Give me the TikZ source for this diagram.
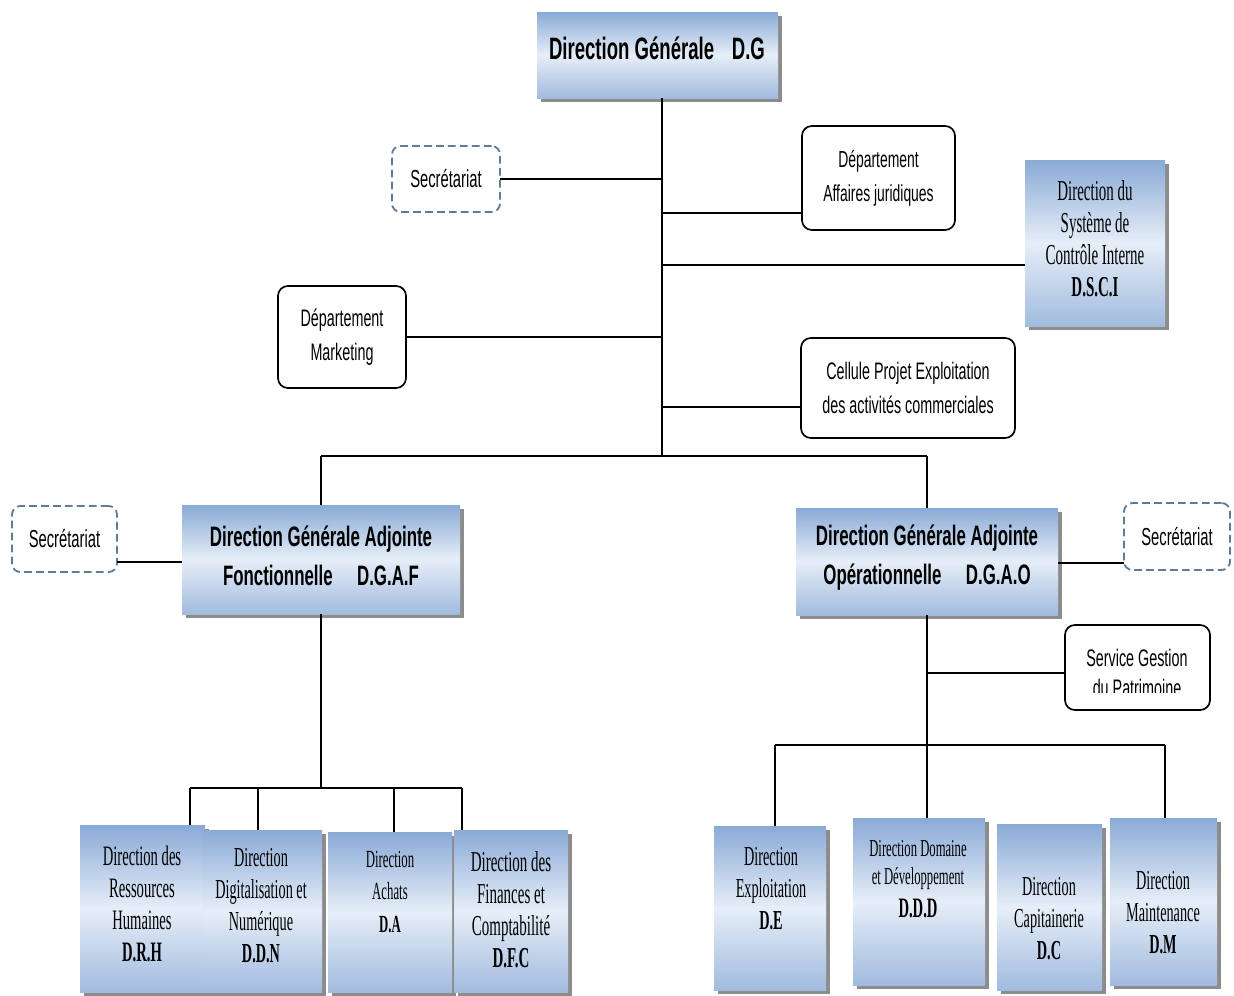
\documentclass[tikz,border=0pt]{standalone}
\usepackage{fontspec}
\setmainfont{Liberation Sans}[FakeStretch=0.6]
\newfontfamily\serifn{Liberation Serif}[FakeStretch=0.52]
\usepackage{xcolor}
\usetikzlibrary{shadows}
\definecolor{boxblue}{RGB}{138,170,214}
\definecolor{boxlight}{RGB}{230,238,248}
\definecolor{dashblue}{RGB}{95,122,155}
\newlength\pxl
\setlength\pxl{0.025cm}

\begin{document}
\begin{tikzpicture}[x=1\pxl, y=-1\pxl,
    lien/.style={line width=1.3pt},
    dirbox/.style={shading=axis, shading angle=20, top color=boxblue, bottom color=boxblue!80!white,
      middle color=boxlight, inner sep=0pt, outer sep=0pt,
      drop shadow={shadow xshift=3pt, shadow yshift=-3pt, fill=black!45, opacity=1}},
    rbox/.style={draw, fill=white, line width=1.2pt, rounded corners=7pt, inner sep=0pt, outer sep=0pt, align=center,
      font=\fontsize{17}{24}\selectfont},
    secbox/.style={draw=dashblue, fill=white, line width=1.3pt, dash pattern=on 5.5pt off 3pt, rounded corners=6pt,
      inner sep=0pt, outer sep=0pt, font=\fontsize{17.5}{22}\selectfont},
    titre/.style={align=center, font=\bfseries\fontsize{20}{27.7}\selectfont},
    stxt/.style={align=center, font=\serifn\fontsize{#1}{22.8}\selectfont},
    stxt/.default=19.5]
\useasboundingbox (0,0) rectangle (1234,995);

% Direction generale et rattachements
\node[dirbox, minimum width=241\pxl, minimum height=86\pxl] (dg) at (657.5,55) {};
\node[font=\bfseries\fontsize{22}{26}\selectfont] (dg-t) at (657,48) {Direction Générale\hspace{9pt} D.G};
\coordinate (t0) at (662,456);
\draw[lien] (dg.south -| t0) -- (t0);

\node[secbox, minimum width=108\pxl, minimum height=66\pxl] (sec1) at (446,179) {Secrétariat};
\node[rbox, minimum width=153\pxl, minimum height=104\pxl, font=\fontsize{16.5}{24}\selectfont]
  (dj) at (878.5,178) {Département\\Affaires juridiques};
\node[dirbox, minimum width=140\pxl, minimum height=166\pxl] (dsci) at (1095,243) {};
\node[stxt=20.5] (dsci-t) at (1095,239) {Direction du\\Système de\\Contrôle Interne\\\textbf{D.S.C.I}};
\node[rbox, minimum width=128\pxl, minimum height=102\pxl] (dmk) at (342,337) {Département\\Marketing};
\node[rbox, minimum width=214\pxl, minimum height=100\pxl] (cpe) at (908,388)
  {Cellule Projet Exploitation\\des activités commerciales};

\draw[lien] (sec1.east) -- (sec1.east -| t0);
\draw[lien] (t0 |- 0,213) -- (dj.west |- 0,213);
\draw[lien] (t0 |- 0,265) -- (dsci.west |- 0,265);
\draw[lien] (dmk.east) -- (dmk.east -| t0);
\draw[lien] (t0 |- 0,407) -- (cpe.west |- 0,407);

% Directions generales adjointes
\coordinate (bl) at (321,456);
\coordinate (br) at (927,456);
\draw[lien] (bl) -- (br);
\node[dirbox, minimum width=278\pxl, minimum height=109\pxl] (dgaf) at (321,559.5) {};
\node[titre] (dgaf-t) at (321,556) {Direction Générale Adjointe\\Fonctionnelle\hspace{14pt} D.G.A.F};
\node[dirbox, minimum width=262\pxl, minimum height=107\pxl] (dgao) at (927,561.5) {};
\node[titre] (dgao-t) at (927,558) {Direction Générale Adjointe\\Opérationnelle\hspace{14pt} D.G.A.O};
\draw[lien] (bl) -- (dgaf.north);
\draw[lien] (br) -- (dgao.north);

\node[secbox, minimum width=105\pxl, minimum height=66\pxl] (sec2) at (64.5,539) {Secrétariat};
\node[secbox, minimum width=106\pxl, minimum height=67\pxl] (sec3) at (1177,536.5) {Secrétariat};
\draw[lien] (sec2.east |- 0,562) -- (dgaf.west |- 0,562);
\draw[lien] (dgao.east |- 0,563) -- (sec3.west |- 0,563);

\node[rbox, minimum width=145\pxl, minimum height=85\pxl] (sgp) at (1137.5,667.5) {};
\begin{scope}
  \clip (1068,628) rectangle (1207,692);
  \node[align=center, font=\fontsize{17}{21}\selectfont] (sgp-t) at (1137,673) {Service Gestion\\du Patrimoine};
\end{scope}
\draw[lien] (dgao.south |- 0,673) -- (sgp.west |- 0,673);

% Directions fonctionnelles
\node[dirbox, minimum width=125\pxl, minimum height=167\pxl] (drh) at (142.5,908.5) {};
\node[dirbox, minimum width=120\pxl, minimum height=162\pxl] (ddn) at (262,911) {};
\node[dirbox, minimum width=124\pxl, minimum height=160\pxl] (da) at (390,912) {};
\node[dirbox, minimum width=114\pxl, minimum height=162\pxl] (dfc) at (511,911) {};
\node[stxt=20] (drh-t) at (142,904) {Direction des\\Ressources\\Humaines\\\textbf{D.R.H}};
\node[stxt=19.5] (ddn-t) at (261,906) {Direction\\Digitalisation et\\Numérique\\\textbf{D.D.N}};
\node[stxt=17.5] (da-t) at (390,892) {Direction\\Achats\\\textbf{D.A}};
\node[stxt=20.5] (dfc-t) at (511,910) {Direction des\\Finances et\\Comptabilité\\\textbf{D.F.C}};
\draw[lien] (dgaf.south) -- (dgaf.south |- 0,788);
\draw[lien] (190,788) -- (462,788);
\foreach \x/\b in {190/drh, 258/ddn, 394/da, 462/dfc}
  \draw[lien] (\x,788) -- (\b.north -| \x,788);

% Directions operationnelles
\node[dirbox, minimum width=112\pxl, minimum height=164\pxl] (de) at (770,908) {};
\node[dirbox, minimum width=132\pxl, minimum height=167\pxl] (ddd) at (919,901.5) {};
\node[dirbox, minimum width=105\pxl, minimum height=166\pxl] (dc) at (1049.5,907) {};
\node[dirbox, minimum width=107\pxl, minimum height=167\pxl] (dm) at (1163.5,901.5) {};
\node[stxt=19.5] (de-t) at (771,889) {Direction\\Exploitation\\\textbf{D.E}};
\node[align=center, font=\serifn\fontsize{17.3}{20}\selectfont] (ddd-t) at (918,879)
  {Direction Domaine\\et Développement\\[3pt]{\bfseries\fontsize{20}{22}\selectfont D.D.D}};
\node[stxt=19.5] (dc-t) at (1049,919) {Direction\\Capitainerie\\\textbf{D.C}};
\node[stxt=19.5] (dm-t) at (1163,913) {Direction\\Maintenance\\\textbf{D.M}};
\draw[lien] (dgao.south) -- (ddd.north -| dgao.south);
\draw[lien] (775,745) -- (1165,745);
\foreach \x/\b in {775/de, 1165/dm}
  \draw[lien] (\x,745) -- (\b.north -| \x,745);
\end{tikzpicture}
\end{document}
